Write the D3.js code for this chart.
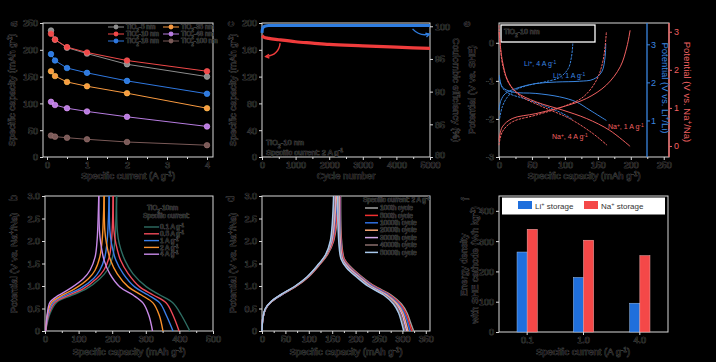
<!DOCTYPE html>
<html>
<head>
<meta charset="utf-8">
<script src="https://cdn.jsdelivr.net/npm/d3@7"></script>
<style>
html, body { margin: 0; padding: 0; background: #000; }
svg { display: block; }
text { font-family: "Liberation Sans", Arial, sans-serif; fill: #0a0a0a; stroke: #6a6a6a; stroke-width: 0.5px; paint-order: stroke; }
</style>
</head>
<body>
<svg id="fig" width="716" height="362"></svg>
<script>
'use strict';

// ---- panel a: rate capability
const rateCurrents = [0.1, 0.2, 0.5, 1, 2, 4];
const rateNames  = ['TiO_{2}-5 nm', 'TiO_{2}-10 nm', 'TiO_{2}-18 nm', 'TiO_{2}-35 nm', 'TiO_{2}-48 nm', 'TiO_{2}-100 nm'];
const rateColors = ['#8c8c8c', '#f04848', '#2f78e0', '#f89a40', '#b77ce0', '#7a5a58'];
const rate5   = [236, 219, 204, 193, 173, 150];
const rate10  = [230, 219, 205, 195, 180, 160];
const rate18  = [192, 180, 166, 157, 142, 118];
const rate35  = [160, 151, 140, 132, 119, 91];
const rate48  = [103, 97, 91, 85, 75, 57];
const rate100 = [40, 38, 36, 33, 28, 22];
const rateSeries = [rate5, rate10, rate18, rate35, rate48, rate100];

// ---- panel c: long cycling
const cycN   = [1, 50, 200, 500, 1000, 1500, 2000, 3000, 4000, 5000];
const cycCap = [181, 179, 177, 175, 172, 170, 168, 166, 164, 162];
const ceN    = [1, 10, 30, 80, 200, 1000, 2000, 3000, 4000, 5000];
const ceVal  = [99.0, 99.5, 99.8, 100.0, 100.1, 100.1, 100.1, 100.1, 100.1, 100.1];

// ---- panel e: Li vs Na profiles (capacity, V vs SHE)
const li4ChCap  = [1, 5, 13, 26, 46, 71, 92, 105, 110, 112];
const li4ChV    = [-1.99, -1.68, -1.42, -1.23, -1.11, -1.02, -0.91, -0.68, -0.37, -0.02];
const li4DisCap = [0.5, 5, 15, 41, 71, 97, 112];
const li4DisV   = [-0.94, -1.18, -1.33, -1.48, -1.67, -1.86, -2.02];
const li1ChCap  = [0, 3, 10, 31, 56, 87, 122, 143, 156, 161, 162];
const li1ChV    = [-1.77, -1.51, -1.33, -1.17, -1.07, -1.03, -1.01, -0.96, -0.76, -0.37, -0.02];
const li1DisCap = [0.5, 5, 20, 56, 92, 117, 138, 163];
const li1DisV   = [-0.85, -1.16, -1.29, -1.33, -1.42, -1.55, -1.77, -2.04];
const na1ChCap  = [0, 5, 20, 56, 97, 133, 163, 184, 194, 199];
const na1ChV    = [-2.56, -2.21, -1.99, -1.86, -1.68, -1.46, -1.11, -0.63, -0.11, 0.33];
const na1DisCap = [0, 5, 13, 26, 56, 97, 133, 168, 199];
const na1DisV   = [0.29, -0.46, -0.98, -1.29, -1.55, -1.77, -1.99, -2.30, -2.72];
const na4ChCap  = [0, 5, 20, 56, 97, 128, 148, 158, 163];
const na4ChV    = [-2.69, -2.34, -2.08, -1.90, -1.68, -1.42, -0.98, -0.46, 0.29];
const na4DisCap = [0, 5, 15, 31, 66, 107, 143, 164];
const na4DisV   = [0.46, -0.54, -1.07, -1.38, -1.68, -1.99, -2.39, -2.69];

// ---- panel b: profiles at several currents
const bNames  = ['0.1 A g^{-1}', '0.5 A g^{-1}', '1 A g^{-1}', '2 A g^{-1}', '4 A g^{-1}'];
const bColors = ['#2e6e64', '#f04a5a', '#3a7ee8', '#f8902a', '#c88ae8'];
const bChargeV = [0, 0.39, 0.64, 0.79, 0.94, 1.16, 1.35, 1.64, 2.01, 3.0];
const bCharge = [
  [2, 15, 35, 79, 124, 163, 185, 201, 208, 213],
  [2, 12, 30, 69, 114, 153, 175, 191, 198, 203],
  [2, 10, 25, 59, 104, 144, 163, 178, 185, 191],
  [2, 8, 20, 50, 89, 129, 149, 163, 170, 176],
  [2, 7, 15, 40, 74, 114, 134, 149, 155, 160]
];
const bDischargeV = [3.0, 2.24, 1.94, 1.57, 1.27, 0.98, 0.80, 0.62, 0.35, 0];
const bDischarge = [
  [213, 215, 221, 238, 262, 302, 342, 381, 406, 431],
  [203, 205, 211, 225, 248, 282, 322, 361, 381, 399],
  [191, 193, 198, 211, 233, 267, 307, 342, 361, 381],
  [176, 178, 183, 195, 215, 248, 287, 322, 340, 351],
  [160, 162, 166, 176, 193, 223, 262, 292, 309, 320]
];

// ---- panel d: profiles at different cycles
const dNames  = ['100th cycle', '500th cycle', '1000th cycle', '2000th cycle', '3000th cycle', '4000th cycle', '5000th cycle'];
const dColors = ['#a0a0a0', '#f03030', '#2f6fe0', '#f8a878', '#d4a8e8', '#8a6e6c', '#a8c8ec'];
const dChargeV = [0, 0.3, 0.5, 0.65, 0.8, 1.0, 1.2, 1.45, 1.7, 2.0, 3.0];
const dCharge = [
  [0, 2, 8, 20, 41, 74, 99, 121, 140, 153, 166],
  [0, 2, 8, 20, 41, 74, 99, 121, 139, 152, 163],
  [0, 2, 8, 20, 41, 73, 98, 120, 138, 150, 161],
  [0, 2, 8, 20, 40, 73, 98, 120, 138, 149, 159],
  [0, 2, 8, 19, 40, 72, 97, 119, 137, 148, 157],
  [0, 2, 8, 19, 40, 72, 97, 119, 137, 147, 155],
  [0, 2, 7, 19, 39, 71, 96, 118, 136, 146, 153]
];
const dDischargeV = [3.0, 2.0, 1.6, 1.4, 1.2, 1.0, 0.8, 0.6, 0.4, 0.2, 0];
const dDischarge = [
  [168, 170, 176, 192, 214, 240, 276, 298, 310, 317, 324],
  [167, 169, 175, 190, 212, 238, 273, 295, 307, 314, 320],
  [166, 168, 173, 188, 210, 235, 270, 292, 304, 311, 316],
  [165, 167, 172, 186, 208, 232, 267, 289, 301, 307, 312],
  [164, 166, 171, 184, 206, 230, 264, 286, 298, 304, 309],
  [163, 165, 170, 182, 204, 228, 262, 284, 295, 301, 306],
  [162, 164, 169, 181, 202, 226, 260, 281, 292, 298, 303]
];

// ---- panel f: energy density
const fCurrents = ['0.1', '1.0', '4.0'];
const liEnergy = [264, 180, 95];
const naEnergy = [339, 303, 252];

const AX = '#d8d8d8';
const BLUE = '#3a86e0', RED = '#f06060';
const svg = d3.select('#fig');
svg.append('rect').attr('width', 716).attr('height', 362).style('fill', '#000');

const rich = function(sel, str) {
  const parts = str.split(/([_^]\{[^}]*\})/).filter(s => s !== '');
  parts.forEach(p => {
    if (p[0] === '_' || p[0] === '^') {
      sel.append('tspan')
        .attr('baseline-shift', p[0] === '_' ? 'sub' : 'super')
        .style('font-size', '70%')
        .text(p.slice(2, -1));
    } else {
      sel.append('tspan').text(p);
    }
  });
  return sel;
};

const label = function(x, y, str, size, opts) {
  opts = opts || {};
  const t = svg.append('text')
    .attr('transform', `translate(${x},${y})` + (opts.rot ? ` rotate(${opts.rot})` : ''))
    .style('font-size', size + 'px')
    .style('text-anchor', opts.anchor || 'start');
  if (opts.color) t.style('fill', opts.color).style('stroke', 'none');
  if (opts.plain) t.style('stroke', 'none');
  return rich(t, str);
};

const frame = function(b) {
  svg.append('rect')
    .attr('x', b.x0).attr('y', b.y0)
    .attr('width', b.x1 - b.x0).attr('height', b.y1 - b.y0)
    .style('fill', 'none').style('stroke', AX).style('stroke-width', 1);
};

const styleAxis = function(sel, color) {
  sel.select('.domain').remove();
  sel.selectAll('.tick line').style('stroke', color || AX);
  sel.selectAll('.tick text').style('font-size', '9px');
  if (color) sel.selectAll('.tick text').style('fill', color).style('stroke', 'none');
};

const bottomAxis = function(b, x, ticks, fmt, minor) {
  if (minor) {
    svg.append('g').attr('transform', `translate(0,${b.y1})`)
      .call(d3.axisBottom(x).tickValues(minor).tickSize(2).tickFormat(''))
      .call(styleAxis);
  }
  svg.append('g').attr('transform', `translate(0,${b.y1})`)
    .call(d3.axisBottom(x).tickValues(ticks).tickSize(3).tickPadding(2).tickFormat(fmt || (d => d)))
    .call(styleAxis);
};

const leftAxis = function(b, y, ticks, fmt) {
  svg.append('g').attr('transform', `translate(${b.x0},0)`)
    .call(d3.axisLeft(y).tickValues(ticks).tickSize(3).tickPadding(2).tickFormat(fmt || (d => d)))
    .call(styleAxis);
};

const smooth = d3.line().curve(d3.curveCatmullRom.alpha(0.5));
const zip = (xs, ys, x, y) => xs.map((v, i) => [x(v), y(ys[i])]);

// ================= panel a
const A = {x0: 43, x1: 213, y0: 23, y1: 157};
const xa = d3.scaleLinear().domain([-0.1, 4.15]).range([A.x0, A.x1]);
const ya = d3.scaleLinear().domain([0, 250]).range([A.y1, A.y0]);
frame(A);
bottomAxis(A, xa, [0, 1, 2, 3, 4], null, [0.5, 1.5, 2.5, 3.5]);
leftAxis(A, ya, [0, 50, 100, 150, 200, 250]);
rateSeries.forEach((s, i) => {
  const pts = zip(rateCurrents, s, xa, ya);
  svg.append('path').attr('d', d3.line()(pts))
    .style('fill', 'none').style('stroke', rateColors[i]).style('stroke-width', 1);
  svg.append('g').selectAll('circle').data(pts).enter().append('circle')
    .attr('cx', d => d[0]).attr('cy', d => d[1]).attr('r', 2.8)
    .style('fill', rateColors[i])
    .style('stroke', d3.color(rateColors[i]).brighter(0.7)).style('stroke-width', 0.6);
});
rateNames.forEach((n, i) => {
  const lx = i < 3 ? 108 : 163, ly = 27 + (i % 3) * 7;
  svg.append('line').attr('x1', lx).attr('x2', lx + 16).attr('y1', ly).attr('y2', ly)
    .style('stroke', rateColors[i]).style('stroke-width', 1);
  svg.append('circle').attr('cx', lx + 8).attr('cy', ly).attr('r', 2.4).style('fill', rateColors[i]);
  label(lx + 18, ly + 2.3, n, 6.5);
});
label(17, 24, 'a', 10, {rot: -90, anchor: 'middle'});
label(15, 90, 'Specific capacity (mAh g^{-1})', 9.5, {rot: -90, anchor: 'middle'});
label(128, 179, 'Specific current (A g^{-1})', 9.5, {anchor: 'middle'});

// ================= panel c
const C = {x0: 262, x1: 430, y0: 23, y1: 157};
const xc = d3.scaleLinear().domain([0, 5000]).range([C.x0, C.x1]);
const yc = d3.scaleLinear().domain([0, 200]).range([C.y1, C.y0]);
const yc2 = d3.scaleLinear().domain([80, 100.5]).range([C.y1, C.y0]);
frame(C);
bottomAxis(C, xc, [0, 1000, 2000, 3000, 4000, 5000], null, [500, 1500, 2500, 3500, 4500]);
leftAxis(C, yc, [0, 40, 80, 120, 160, 200]);
svg.append('g').attr('transform', `translate(${C.x1},0)`)
  .call(d3.axisRight(yc2).tickValues([80, 85, 90, 95, 100]).tickSize(3).tickPadding(2))
  .call(styleAxis)
  .call(g => g.selectAll('.tick text').attr('dy', (d) => d === 80 ? '0.1em' : '0.32em'));
svg.append('path').attr('d', d3.line().curve(d3.curveMonotoneX)(zip(cycN, cycCap, xc, yc)))
  .style('fill', 'none').style('stroke', '#f03c3c').style('stroke-width', 3.2);
svg.append('path').attr('d', d3.line().curve(d3.curveMonotoneX)(zip(ceN, ceVal, xc, yc2)))
  .style('fill', 'none').style('stroke', '#2f7de0').style('stroke-width', 3);
const arrow = function(p0, pc, p1, color) {
  svg.append('path')
    .attr('d', `M${p0[0]},${p0[1]} Q${pc[0]},${pc[1]} ${p1[0]},${p1[1]}`)
    .style('fill', 'none').style('stroke', color).style('stroke-width', 1.4);
  const ang = Math.atan2(p1[1] - pc[1], p1[0] - pc[0]);
  const h = 4;
  const a1 = [p1[0] - h * Math.cos(ang - 0.5), p1[1] - h * Math.sin(ang - 0.5)];
  const a2 = [p1[0] - h * Math.cos(ang + 0.5), p1[1] - h * Math.sin(ang + 0.5)];
  svg.append('path').attr('d', `M${a1} L${p1} L${a2}`)
    .style('fill', 'none').style('stroke', color).style('stroke-width', 1.4);
};
arrow([xc(540), yc(170)], [xc(500), yc(152)], [xc(110), yc(150)], '#f03c3c');
arrow([xc(4480), yc2(99.6)], [xc(4700), yc2(98.4)], [xc(4980), yc2(98.8)], '#2f7de0');
label(266, 145, 'TiO_{2}-10 nm', 7.5);
label(266, 155, 'Specific current: 2 A g^{-1}', 7.5);
label(234, 24, 'c', 10, {rot: -90, anchor: 'middle'});
label(236, 90, 'Specific capacity (mAh g^{-1})', 9.5, {rot: -90, anchor: 'middle'});
label(453, 90, 'Coulombic efficiency (%)', 9.5, {rot: 90, anchor: 'middle'});
label(346, 179, 'Cycle number', 9.5, {anchor: 'middle'});

// ================= panel e
const E = {x0: 499, x1: 669, y0: 23, y1: 157};
const xe = d3.scaleLinear().domain([0, 258]).range([E.x0, E.x1]);
const ye = d3.scaleLinear().domain([-3, 0.52]).range([E.y1, E.y0]);
frame(E);
bottomAxis(E, xe, [0, 50, 100, 150, 200, 250], null, [25, 75, 125, 175, 225]);
leftAxis(E, ye, [-3, -2, -1, 0], d => d);
svg.append('rect').attr('x', 501).attr('y', 25).attr('width', 94).attr('height', 17)
  .style('fill', '#000').style('stroke', '#fff').style('stroke-width', 1.3);
label(504, 34, 'TiO_{2}-10 nm', 7);
const eCurves = [
  [li4ChCap, li4ChV, BLUE, '2.5,1'], [li4DisCap, li4DisV, BLUE, '2.5,1'],
  [li1ChCap, li1ChV, BLUE, null], [li1DisCap, li1DisV, BLUE, null],
  [na1ChCap, na1ChV, RED, null], [na1DisCap, na1DisV, RED, null],
  [na4ChCap, na4ChV, RED, '2.5,1'], [na4DisCap, na4DisV, RED, '2.5,1']
];
eCurves.forEach(c => {
  svg.append('path').attr('d', smooth(zip(c[0], c[1], xe, ye)))
    .style('fill', 'none').style('stroke', c[2]).style('stroke-width', 1)
    .style('stroke-dasharray', c[3]);
});
// Li axis (V vs Li+/Li = SHE + 3.04)
const liX = 647;
svg.append('line').attr('x1', liX).attr('x2', liX).attr('y1', E.y0).attr('y2', E.y1)
  .style('stroke', BLUE).style('stroke-width', 1.3);
const yLi = d3.scaleLinear().domain([-3 + 3.04, 0.52 + 3.04]).range([E.y1, E.y0]);
svg.append('g').attr('transform', `translate(${liX},0)`)
  .call(d3.axisRight(yLi).tickValues([1, 2, 3]).tickSize(3).tickPadding(1).tickFormat(d3.format('d')))
  .call(sel => styleAxis(sel, BLUE));
// Na axis (V vs Na+/Na = SHE + 2.71)
svg.append('line').attr('x1', E.x1).attr('x2', E.x1).attr('y1', E.y0).attr('y2', E.y1)
  .style('stroke', RED).style('stroke-width', 1.3);
const yNa = d3.scaleLinear().domain([-3 + 2.71, 0.52 + 2.71]).range([E.y1, E.y0]);
svg.append('g').attr('transform', `translate(${E.x1},0)`)
  .call(d3.axisRight(yNa).tickValues([0, 1, 2, 3]).tickSize(3).tickPadding(2).tickFormat(d3.format('d')))
  .call(sel => styleAxis(sel, RED));
label(524, 66, 'Li^{+}, 4 A g^{-1}', 7, {color: BLUE});
label(553, 78, 'Li^{+}, 1 A g^{-1}', 7, {color: BLUE});
label(608, 129, 'Na^{+}, 1 A g^{-1}', 7, {color: RED});
label(552, 139, 'Na^{+}, 4 A g^{-1}', 7, {color: RED});
label(662, 88, 'Potential (V vs. Li^{+}/Li)', 9.5, {rot: 90, anchor: 'middle', color: BLUE});
label(684, 92, 'Potential (V vs. Na^{+}/Na)', 9.5, {rot: 90, anchor: 'middle', color: RED});
label(470, 24, 'e', 10, {rot: -90, anchor: 'middle'});
label(475, 90, 'Potential (V vs. SHE)', 9.5, {rot: -90, anchor: 'middle'});
label(584, 179, 'Specific capacity (mAh g^{-1})', 9.5, {anchor: 'middle'});

// ================= panel b
const B = {x0: 45, x1: 213, y0: 196, y1: 331};
const xb = d3.scaleLinear().domain([0, 500]).range([B.x0, B.x1]);
const yb = d3.scaleLinear().domain([0, 3]).range([B.y1, B.y0]);
const vfmt = d3.format('.1f');
frame(B);
bottomAxis(B, xb, [0, 100, 200, 300, 400, 500], null, [50, 150, 250, 350, 450]);
leftAxis(B, yb, [0, 0.5, 1, 1.5, 2, 2.5, 3], d => d === 0 ? '0' : vfmt(d));
bCharge.forEach((c, i) => {
  svg.append('path').attr('d', smooth(zip(c, bChargeV, xb, yb)))
    .style('fill', 'none').style('stroke', bColors[i]).style('stroke-width', 1.4);
  svg.append('path').attr('d', smooth(zip(bDischarge[i], bDischargeV, xb, yb)))
    .style('fill', 'none').style('stroke', bColors[i]).style('stroke-width', 1.4);
});
label(147, 210, 'TiO_{2}-10nm', 6.5);
label(143, 218, 'Specific current:', 6.5);
bNames.forEach((n, i) => {
  const ly = 227 + i * 6.8;
  svg.append('line').attr('x1', 144).attr('x2', 159).attr('y1', ly).attr('y2', ly)
    .style('stroke', bColors[i]).style('stroke-width', 1.4);
  label(160, ly + 2.2, n, 6.5);
});
label(17, 198, 'b', 10, {rot: -90, anchor: 'middle'});
label(17, 263, 'Potential (V vs. Na^{+}/Na)', 9.5, {rot: -90, anchor: 'middle'});
label(129, 355, 'Specific capacity (mAh g^{-1})', 9.5, {anchor: 'middle'});

// ================= panel d
const D = {x0: 262, x1: 430, y0: 196, y1: 331};
const xd = d3.scaleLinear().domain([0, 359]).range([D.x0, D.x1]);
const yd = d3.scaleLinear().domain([0, 3]).range([D.y1, D.y0]);
frame(D);
bottomAxis(D, xd, [0, 50, 100, 150, 200, 250, 300, 350], null, [25, 75, 125, 175, 225, 275, 325]);
leftAxis(D, yd, [0, 0.5, 1, 1.5, 2, 2.5, 3], d => d === 0 ? '0' : vfmt(d));
dCharge.forEach((c, i) => {
  svg.append('path').attr('d', smooth(zip(c, dChargeV, xd, yd)))
    .style('fill', 'none').style('stroke', dColors[i]).style('stroke-width', 1.5);
  svg.append('path').attr('d', smooth(zip(dDischarge[i], dDischargeV, xd, yd)))
    .style('fill', 'none').style('stroke', dColors[i]).style('stroke-width', 1.5);
});
label(363, 202, 'Specific current: 2 A g^{-1}', 6.5);
dNames.forEach((n, i) => {
  const ly = 208 + i * 7.4;
  svg.append('line').attr('x1', 365).attr('x2', 378).attr('y1', ly).attr('y2', ly)
    .style('stroke', dColors[i]).style('stroke-width', 1.5);
  label(380, ly + 2.2, n, 6.5);
});
label(234, 199, 'd', 10, {rot: -90, anchor: 'middle'});
label(236, 263, 'Potential (V vs. Na^{+}/Na)', 9.5, {rot: -90, anchor: 'middle'});
label(346, 355, 'Specific capacity (mAh g^{-1})', 9.5, {anchor: 'middle'});

// ================= panel f
const F = {x0: 499, x1: 668, y0: 196, y1: 332};
const xf = d3.scaleBand().domain(fCurrents).range([F.x0, F.x1]).paddingInner(0.64).paddingOuter(0.32);
const yf = d3.scaleLinear().domain([0, 449]).range([F.y1, F.y0]);
frame(F);
svg.append('g').attr('transform', `translate(0,${F.y1})`)
  .call(d3.axisBottom(xf).tickSize(3).tickPadding(2))
  .call(styleAxis);
leftAxis(F, yf, [0, 100, 200, 300, 400]);
const bw = xf.bandwidth() / 2;
svg.append('g').selectAll('rect').data(fCurrents).enter().append('rect')
  .attr('x', d => xf(d)).attr('y', (d, i) => yf(liEnergy[i]))
  .attr('width', bw).attr('height', (d, i) => yf(0) - yf(liEnergy[i]))
  .style('fill', '#1f6fdc').style('stroke', '#9cc0f0').style('stroke-width', 0.5);
svg.append('g').selectAll('rect').data(fCurrents).enter().append('rect')
  .attr('x', d => xf(d) + bw).attr('y', (d, i) => yf(naEnergy[i]))
  .attr('width', bw).attr('height', (d, i) => yf(0) - yf(naEnergy[i]))
  .style('fill', '#f44848').style('stroke', '#f8b0b0').style('stroke-width', 0.5);
svg.append('rect').attr('x', 502).attr('y', 197.5).attr('width', 163).attr('height', 17)
  .style('fill', '#fff');
svg.append('rect').attr('x', 518).attr('y', 201).attr('width', 14).attr('height', 8).style('fill', '#1f6fdc');
label(535, 208.8, 'Li^{+} storage', 8, {plain: true}).style('fill', '#333');
svg.append('rect').attr('x', 584).attr('y', 201).attr('width', 14).attr('height', 8).style('fill', '#f44848');
label(601, 208.8, 'Na^{+} storage', 8, {plain: true}).style('fill', '#333');
label(469, 199, 'f', 10, {rot: -90, anchor: 'middle'});
label(467, 265, 'Energy density', 9.5, {rot: -90, anchor: 'middle'});
label(478, 265, 'with SHE cathode (Wh kg^{-1})', 9.5, {rot: -90, anchor: 'middle'});
label(583, 355, 'Specific current (A g^{-1})', 9.5, {anchor: 'middle'});
</script>
</body>
</html>
